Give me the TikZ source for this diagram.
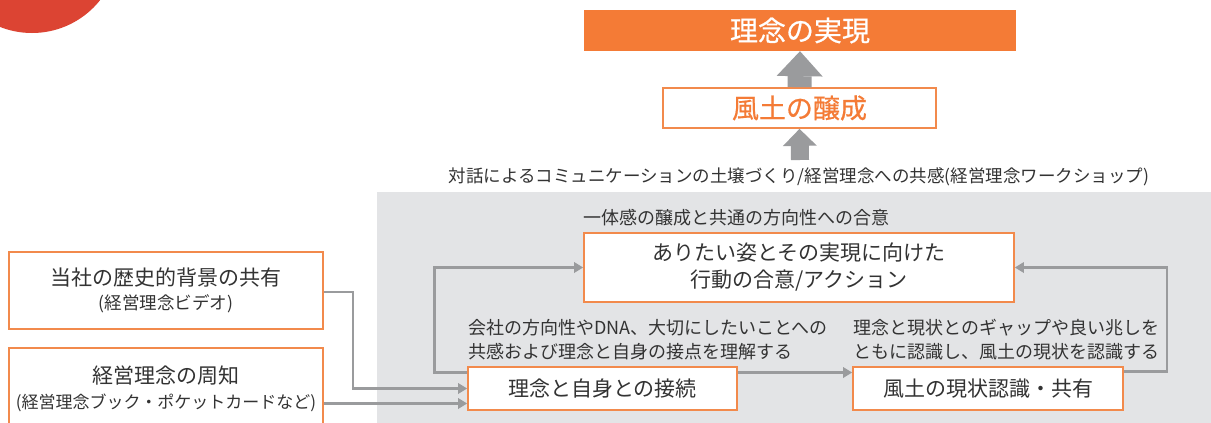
\documentclass[tikz,border=0pt]{standalone}
\usepackage{fontspec}
\newfontfamily\jp{Noto Sans CJK JP}
\newfontfamily\jpm[FakeBold=0.6]{Noto Sans CJK JP}
\usetikzlibrary{arrows.meta,calc}
\definecolor{orangeF}{HTML}{F47B36}
\definecolor{orangeB}{HTML}{F28A4C}
\definecolor{redC}{HTML}{DC4433}
\definecolor{bgG}{HTML}{E3E4E6}
\definecolor{lineG}{HTML}{9A9B9D}
\definecolor{txt}{HTML}{333333}
\tikzset{
  obox/.style={draw=orangeB, line width=1.8pt, fill=white, inner sep=0pt, text=txt, align=center},
  conn/.style={draw=lineG, line width=2.8pt, -{Triangle[length=9pt,width=11pt,line width=0pt]}},
  bigarrow/.style={draw=lineG, line cap=butt},
  lbl/.style={text=txt, inner sep=0pt, align=left, anchor=west}
}
\begin{document}
\begin{tikzpicture}[x=1pt,y=-1pt]
\clip (0,0) rectangle (1211,423);
\fill[white] (0,0) rectangle (1211,423);
% red circle
\fill[redC] (32,-54) circle (87);
% grey background
\fill[bgG] (377,192) rectangle (1211,430);

% top boxes
\node[fill=orangeF, inner sep=0pt, minimum width=432pt, minimum height=41pt, text=white,
      font=\jpm\fontsize{28}{30}\selectfont] (jitsugen) at (800,30.5) {理念の実現};
\node[obox, minimum width=273pt, minimum height=40pt, text=orangeF,
      font=\jpm\fontsize{27}{30}\selectfont] (fudo) at (799.5,108) {風土の醸成};
\coordinate (arrbase) at (800,160);

\draw[bigarrow, line width=24pt, -{Triangle[length=25pt,width=46pt,line width=0pt]}] (fudo.north) -- (jitsugen.south);
\draw[bigarrow, line width=18pt, -{Triangle[length=17pt,width=34pt,line width=0pt]}] (arrbase) -- (fudo.south);

\node[text=txt, inner sep=0pt, font=\jp\fontsize{17.5}{20}\selectfont] (dialog) at (799,177)
  {対話によるコミュニケーションの土壌づくり/経営理念への共感(経営理念ワークショップ)};

% left boxes
\node[obox, minimum width=314pt, minimum height=77pt] (A) at (166,290.5)
  {{\jp\fontsize{21}{27}\selectfont 当社の歴史的背景の共有}\\[7pt]{\jp\fontsize{17.5}{22}\selectfont (経営理念ビデオ)}};
\node[obox, minimum width=314pt, minimum height=82pt] (B) at (166,389)
  {{\jp\fontsize{21}{27}\selectfont 経営理念の周知}\\[7pt]{\jp\fontsize{17}{22}\selectfont (経営理念ブック・ポケットカードなど)}};

% inner boxes
\node[obox, minimum width=430pt, minimum height=69pt, font=\jp\fontsize{21}{27}\selectfont] (ari) at (799,267.5)
  {ありたい姿とその実現に向けた\\行動の合意/アクション};
\node[obox, minimum width=269pt, minimum height=43pt, font=\jp\fontsize{21}{27}\selectfont] (setsu) at (602.5,388.5)
  {理念と自身との接続};
\node[obox, minimum width=270pt, minimum height=43pt, font=\jp\fontsize{21}{27}\selectfont] (genjo) at (988,388.5)
  {風土の現状認識・共有};

% labels
\node[lbl, font=\jp\fontsize{18}{24}\selectfont] (goui) at (583,218) {一体感の醸成と共通の方向性への合意};
\node[lbl, font=\jp\fontsize{18}{24}\selectfont] (lblL) at (468,340)
  {会社の方向性やDNA、大切にしたいことへの\\共感および理念と自身の接点を理解する};
\node[lbl, font=\jp\fontsize{18}{24}\selectfont] (lblR) at (853,340)
  {理念と現状とのギャップや良い兆しを\\ともに認識し、風土の現状を認識する};

% connectors
\coordinate (lowIn) at ([yshift=-15pt]setsu.west);
\draw[conn] ([yshift=-1.5pt]A.east) -- ++(29,0) |- (setsu.west);
\draw[conn] (B.east |- lowIn) -- (lowIn);
\draw[conn] ([yshift=16pt]setsu.west) -- ++(-33,0) |- (ari.west);
\draw[conn] ([yshift=16pt]setsu.east) -- ([yshift=16pt]genjo.west);
\draw[conn] ([yshift=17pt]genjo.east) -- ++(43,0) |- (ari.east);
\end{tikzpicture}
\end{document}
